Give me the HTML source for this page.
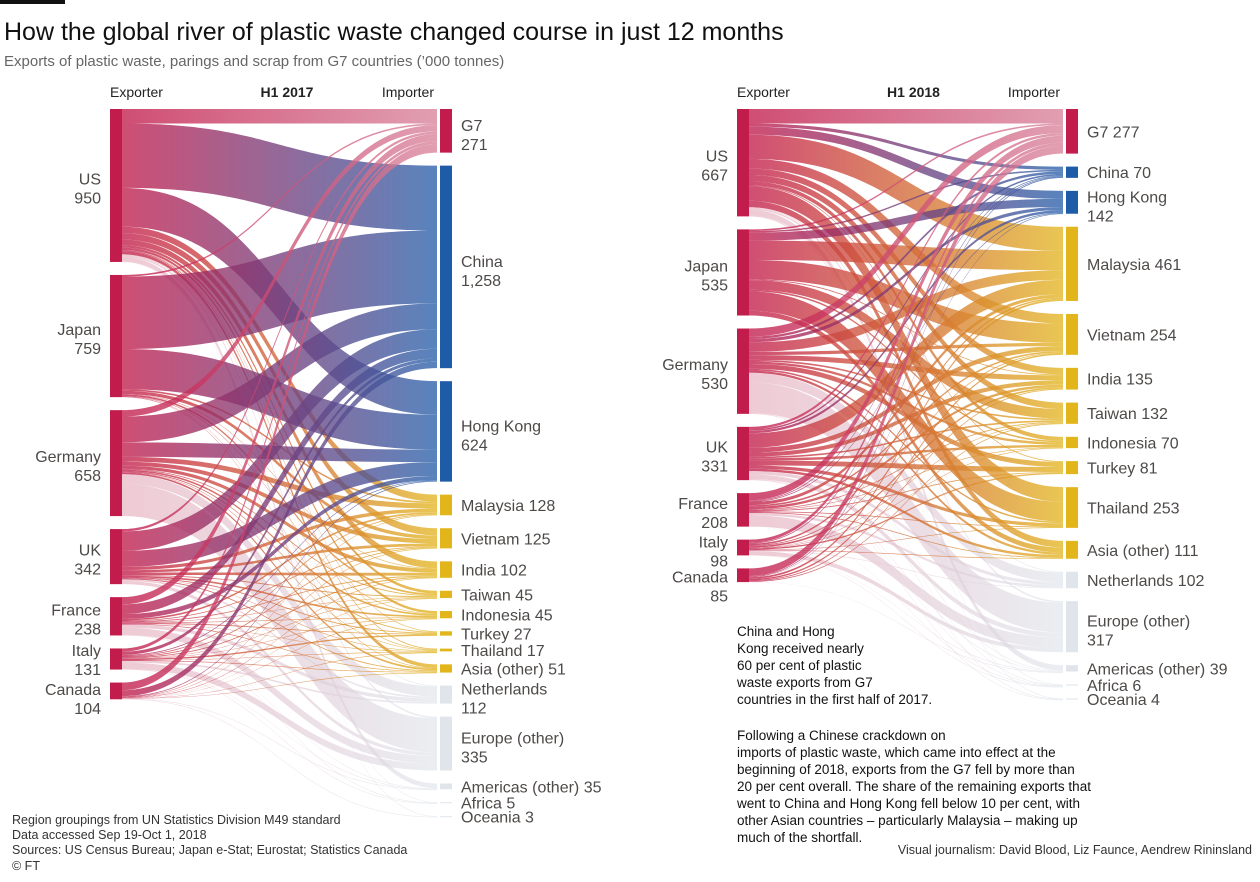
<!DOCTYPE html>
<html><head><meta charset="utf-8">
<style>
html,body{margin:0;padding:0;background:#fff;}
svg{display:block;font-family:"Liberation Sans",sans-serif;}
.lbl{font-size:16px;fill:#4d4a48;}
.hd{font-size:14px;fill:#222;}
.sm{font-size:12.5px;fill:#333;}
.ann{font-size:13.5px;fill:#111;}
</style></head>
<body>
<svg id="chart" width="1260" height="882" viewBox="0 0 1260 882">
<rect x="0" y="0" width="65" height="4" fill="#111"/>
<text x="4" y="40" font-size="25" fill="#111">How the global river of plastic waste changed course in just 12 months</text>
<text x="4" y="66" font-size="15" fill="#666">Exports of plastic waste, parings and scrap from G7 countries (’000 tonnes)</text>
<g id="panels"></g>
<g>
<text class="ann" x="737" y="636">China and Hong</text>
<text class="ann" x="737" y="653">Kong received nearly</text>
<text class="ann" x="737" y="670">60 per cent of plastic</text>
<text class="ann" x="737" y="687">waste exports from G7</text>
<text class="ann" x="737" y="704">countries in the first half of 2017.</text>
</g>
<g>
<text class="ann" x="737" y="740">Following a Chinese crackdown on</text>
<text class="ann" x="737" y="757">imports of plastic waste, which came into effect at the</text>
<text class="ann" x="737" y="774">beginning of 2018, exports from the G7 fell by more than</text>
<text class="ann" x="737" y="791">20 per cent overall. The share of the remaining exports that</text>
<text class="ann" x="737" y="808">went to China and Hong Kong fell below 10 per cent, with</text>
<text class="ann" x="737" y="825">other Asian countries – particularly Malaysia – making up</text>
<text class="ann" x="737" y="842">much of the shortfall.</text>
</g>
<g>
<text class="sm" x="12" y="824">Region groupings from UN Statistics Division M49 standard</text>
<text class="sm" x="12" y="839">Data accessed Sep 19-Oct 1, 2018</text>
<text class="sm" x="12" y="854">Sources: US Census Bureau; Japan e-Stat; Eurostat; Statistics Canada</text>
<text class="sm" x="12" y="870">© FT</text>
</g>
<text class="sm" x="1252" y="854" text-anchor="end">Visual journalism: David Blood, Liz Faunce, Aendrew Rininsland</text>
</svg>
<script>
const exporters = ["US","Japan","Germany","UK","France","Italy","Canada"];
const importers = ["G7","China","Hong Kong","Malaysia","Vietnam","India","Taiwan","Indonesia","Turkey","Thailand","Asia (other)","Netherlands","Europe (other)","Americas (other)","Africa","Oceania"];
const importerGroup = ["g7","cn","cn","as","as","as","as","as","as","as","as","eu","eu","eu","eu","eu"];
const exp2017 = [950,759,658,342,238,131,104];
const imp2017 = [271,1258,624,128,125,102,45,45,27,17,51,112,335,35,5,3];
const exp2018 = [667,535,530,331,208,98,85];
const imp2018 = [277,70,142,461,254,135,132,70,81,253,111,102,317,39,6,4];
// flows: rows = exporters, cols = importers
const flows2017 = [
 [90,400,241,40,40,35,15,15,2,5,20,5,10,30,1,1],
 [10,450,250,10,20,2,10,3,0,2,2,0,0,0,0,0],
 [40,160,90,30,25,20,5,10,5,3,10,60,200,0,0,0],
 [15,120,100,20,15,15,5,10,5,2,5,10,20,0,0,0],
 [45,60,30,10,5,5,2,3,5,1,4,20,45,1,2,0],
 [20,20,5,5,5,5,2,2,8,2,4,10,40,1,2,0],
 [51,40,5,3,2,2,1,1,0,1,1,0,0,3,0,2]
];
const flows2018 = [
 [90,20,50,150,60,40,40,25,5,90,40,5,10,35,2,5],
 [10,10,50,120,120,5,60,10,0,120,30,0,0,0,0,0],
 [50,15,20,60,20,30,10,15,30,10,15,60,190,2,1,2],
 [15,10,15,90,30,25,10,15,30,20,15,20,30,2,2,2],
 [45,5,5,20,10,15,5,3,5,5,5,15,69,0,1,0],
 [20,5,0,10,5,10,2,2,8,3,3,3,25,1,1,0],
 [47,5,2,11,9,5,5,0,0,0,0,0,0,1,0,0]
];
const NS="http://www.w3.org/2000/svg";
const K=0.161, GAP=13, TOP=109;
const COL={src:"#c21c4c",g7:"#d9849c",cn:"#2961ab",as:"#e3b622",eu:"#dbe2e9"};
const BAR={g7:"#c21c4c",cn:"#1f5ca8",as:"#e2b51a",eu:"#dfe5eb"};
function mk(tag,attrs,parent){const e=document.createElementNS(NS,tag);for(const k in attrs)e.setAttribute(k,attrs[k]);parent.appendChild(e);return e;}
function fmt(v){return v.toLocaleString("en-US");}
function layout(tot){let y=TOP;return tot.map(v=>{const h=Math.max(1,v*K);const r={y0:y,y1:y+h};y+=h+GAP;return r;});}
function panel(id,title,xs,xt,expT,impT,flows,impLines,expAnchor,expShift){
 const root=document.getElementById("panels");
 const g=mk("g",{},root);
 
 
 const defs=mk("defs",{},g);
 const x0=xs+12, x1=xt-3;
 for(const k of ["g7","cn","as","eu"]){
  const gr=mk("linearGradient",{id:"gr"+id+k,gradientUnits:"userSpaceOnUse",x1:x0,x2:x1,y1:0,y2:0},defs);
  mk("stop",{offset:"0",'stop-color':k==="eu"?"#e3a7b8":COL.src},gr);
  mk("stop",{offset:"1",'stop-color':COL[k]},gr);
 }
 const sN=layout(expT), tN=layout(impT);
 const rowSum=flows.map(r=>r.reduce((a,b)=>a+b,0));
 const colSum=impT.map((_,j)=>flows.reduce((a,r)=>a+r[j],0));
 const sOff=sN.map(n=>n.y0), tOff=tN.map(n=>n.y0);
 const lg=mk("g",{},g);
 
 
 for(let i=0;i<flows.length;i++){
  for(let j=0;j<impT.length;j++){
   const v=flows[i][j]; if(!v) continue;
   const ws=v*K*expT[i]/rowSum[i], wt=Math.max(0.6,v*K*impT[j]/colSum[j]);
   const sy0=sOff[i], sy1=sy0+ws; sOff[i]=sy1;
   const ty0=tOff[j], ty1=ty0+wt; tOff[j]=ty1;
   const xm=(x0+x1)/2;
   const p=mk("path",{d:`M${x0},${sy0}C${xm},${sy0} ${xm},${ty0} ${x1},${ty0}L${x1},${ty1}C${xm},${ty1} ${xm},${sy1} ${x0},${sy1}Z`,fill:`url(#gr${id}${importerGroup[j]})`,'fill-opacity':importerGroup[j]==="eu"?0.6:0.78},lg);
   
   
  }
 }
 sN.forEach((n,i)=>{
  const r=mk("rect",{x:xs,y:n.y0,width:12,height:n.y1-n.y0,fill:COL.src},g);
  
  
  const c=(n.y0+n.y1)/2+expShift[i];
  const t=mk("text",{x:expAnchor,y:c-1,'text-anchor':'end',class:'lbl'},g);
  
  
  t.textContent=exporters[i];
  const t2=mk("text",{x:expAnchor,y:c+18,'text-anchor':'end',class:'lbl'},g);
  
  
  t2.textContent=fmt(expT[i]);
 });
 tN.forEach((n,j)=>{
  const r=mk("rect",{x:xt,y:n.y0,width:12,height:n.y1-n.y0,fill:BAR[importerGroup[j]]},g);
  
  
  const c=(n.y0+n.y1)/2;
  const t=mk("text",{x:xt+21,class:'lbl'},g);
  
  
  if(impLines[j]===2){
   t.setAttribute('y',c);
   t.textContent=importers[j];
   const t2=mk("text",{x:xt+21,y:c+19,class:'lbl'},g);
   
   
   t2.textContent=fmt(impT[j]);
  } else {
   t.setAttribute('y',c+6);
   t.textContent=importers[j]+" "+fmt(impT[j]);
  }
 });
 const h1=mk("text",{x:xs,y:97,class:'hd'},g);
 
 
 h1.textContent="Exporter";
 const h2=mk("text",{x:(xs+xt)/2+12,y:97,class:'hd','text-anchor':'middle','font-weight':'bold'},g);
 
 
 h2.textContent=title;
 const h3=mk("text",{x:xt-6,y:97,class:'hd','text-anchor':'end'},g);
 
 
 h3.textContent="Importer";
}
panel("a","H1 2017",110,440,exp2017,imp2017,flows2017,[2,2,2,1,1,1,1,1,1,1,1,2,2,1,1,1],101,[0,0,0,0,0,-2,5]);
panel("b","H1 2018",737,1066,exp2018,imp2018,flows2018,[1,1,2,1,1,1,1,1,1,1,1,1,2,1,1,1],728,[0,0,0,0,0,1,8]);
</script>
</body></html>
